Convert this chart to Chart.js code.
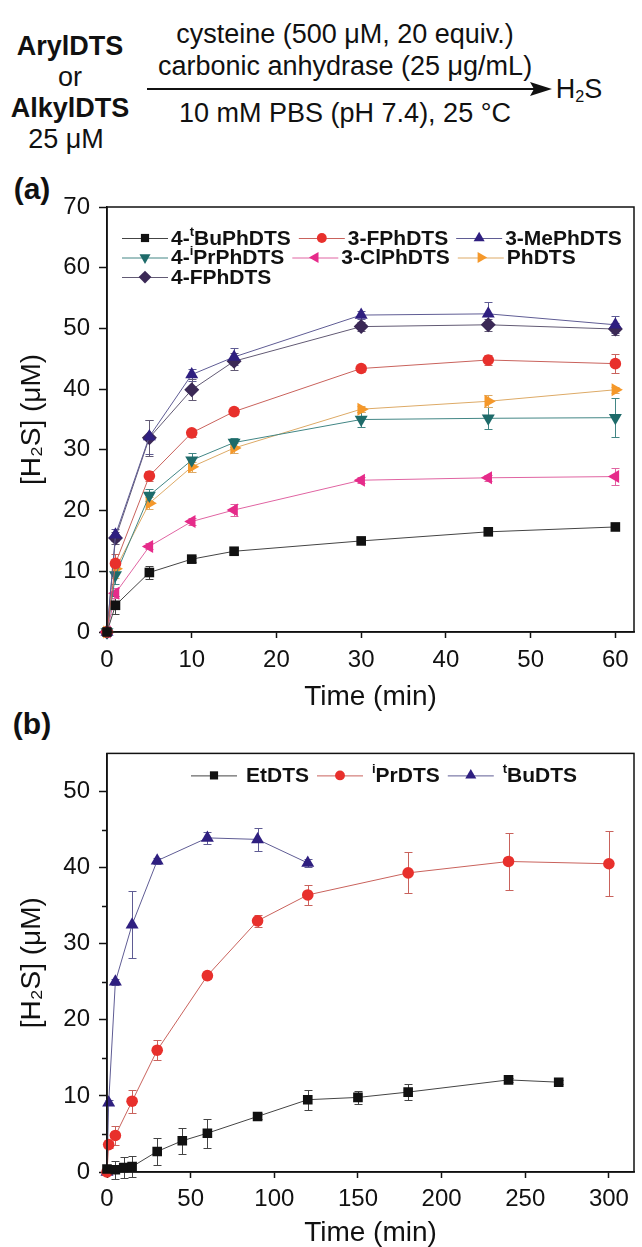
<!DOCTYPE html>
<html>
<head>
<meta charset="utf-8">
<script src="https://cdn.jsdelivr.net/npm/chart.js@4.4.1/dist/chart.umd.min.js"></script>
<style>
  html, body { margin:0; padding:0; background:#fff; overflow:hidden; }
  body { width:642px; height:1247px; position:relative; font-family:'Liberation Sans', Arial, sans-serif; color:#111; }
  .t { position:absolute; transform:translate(-50%,-50%); white-space:nowrap; line-height:1; }
  .b { font-weight:bold; }
  .box { position:absolute; left:0; width:642px; }
  sub { font-size:60%; vertical-align:-0.25em; line-height:0; }
</style>
</head>
<body>
<!-- reaction scheme -->
<div class="t b" style="left:70px;top:46px;font-size:27px">ArylDTS</div>
<div class="t" style="left:70px;top:77px;font-size:27px">or</div>
<div class="t b" style="left:70px;top:108px;font-size:27px">AlkylDTS</div>
<div class="t" style="left:66px;top:139px;font-size:27px">25 μM</div>
<div class="t" style="left:345px;top:34px;font-size:27px">cysteine (500 μM, 20 equiv.)</div>
<div class="t" style="left:345px;top:66px;font-size:27px">carbonic anhydrase (25 μg/mL)</div>
<div class="t" style="left:345px;top:113px;font-size:27px">10 mM PBS (pH 7.4), 25 °C</div>
<svg style="position:absolute;left:0;top:0" width="642" height="150">
  <line x1="147" y1="89" x2="535" y2="89" stroke="#111" stroke-width="2"/>
  <polygon points="552,89 530,82 534,89 530,96" fill="#111"/>
</svg>
<div class="t" style="left:579px;top:89px;font-size:27px">H<sub>2</sub>S</div>

<div class="t b" style="left:32px;top:189px;font-size:30px">(a)</div>
<div class="t b" style="left:32px;top:724px;font-size:30px">(b)</div>

<div class="box" style="top:180px;height:545px"><canvas id="chartA"></canvas></div>
<div class="box" style="top:730px;height:517px"><canvas id="chartB"></canvas></div>

<script>
// ---- data (a): aryl DTS, 0-60 min ----
const timeA = [0, 1, 5, 10, 15, 30, 45, 60];
const tBuPh = [0, 4.4, 9.8, 12.0, 13.3, 15.0, 16.5, 17.3];
const tBuPhErr = [0, 1.5, 1.0, 0.5, 0.5, 0.5, 0.5, 0.4];
const fPh3 = [0, 11.3, 25.7, 32.8, 36.3, 43.4, 44.8, 44.2];
const fPh3Err = [0, 1.5, 0.8, 0.6, 0.6, 0.5, 0.8, 1.6];
const mePh3 = [0, 16.0, 32.2, 42.4, 45.3, 52.2, 52.4, 50.6];
const mePh3Err = [0, 1.0, 2.8, 1.0, 1.4, 0.6, 1.9, 1.4];
const iPrPh = [0, 9.4, 22.5, 28.3, 31.2, 35.0, 35.2, 35.3];
const iPrPhErr = [0, 1.5, 1.0, 1.2, 0.8, 1.2, 1.8, 3.2];
const clPh3 = [0, 6.4, 14.1, 18.2, 20.1, 25.0, 25.4, 25.6];
const clPh3Err = [0, 0.8, 0.5, 0.5, 1.0, 0.5, 0.5, 1.4];
const ph = [0, 10.4, 21.2, 27.2, 30.3, 36.7, 38.0, 39.9];
const phErr = [0, 1.5, 1.0, 0.8, 0.8, 0.5, 1.0, 0.5];
const fPh4 = [0, 15.5, 32.0, 39.9, 44.6, 50.3, 50.6, 49.9];
const fPh4Err = [0, 1.0, 3.0, 1.7, 1.4, 0.8, 1.0, 1.0];

// ---- data (b): alkyl DTS, 0-300 min ----
const timeEt = [0, 5, 10, 15, 30, 45, 60, 90, 120, 150, 180, 240, 270];
const et = [0.4, 0.3, 0.6, 0.7, 2.7, 4.1, 5.1, 7.3, 9.5, 9.8, 10.5, 12.1, 11.8];
const etErr = [0.5, 1.2, 1.4, 1.4, 1.8, 1.7, 1.9, 0.4, 1.3, 0.8, 1.1, 0.3, 0.3];
const timeIPr = [0, 1, 5, 15, 30, 60, 90, 120, 180, 240, 300];
const iPr = [0, 3.6, 4.8, 9.3, 16.0, 25.8, 33.0, 36.4, 39.3, 40.8, 40.5];
const iPrErr = [0, 0.5, 1.3, 1.5, 1.3, 0.4, 0.8, 1.3, 2.7, 3.8, 4.3];
const timeTBu = [0, 1, 5, 15, 30, 60, 90, 120];
const tBu = [0, 9.1, 25.0, 32.5, 40.9, 43.9, 43.7, 40.6];
const tBuErr = [0, 0.3, 0.4, 4.4, 0.4, 0.8, 1.5, 0.5];

Chart.defaults.font.family = "'Liberation Sans', Arial, sans-serif";
Chart.defaults.color = '#111';

function series(label, xs, ys, errs, st) {
  return {
    label: label,
    data: xs.map((x, i) => ({x: x, y: ys[i]})),
    errors: errs,
    showLine: true,
    borderColor: st.line,
    borderWidth: 1,
    pointStyle: st.shape,
    pointRadius: st.r,
    pointRotation: st.rot || 0,
    pointBackgroundColor: st.fill,
    pointBorderColor: st.fill,
    pointBorderWidth: 0,
    pointHoverRadius: st.r,
    tension: 0,
    clip: 12
  };
}

const BLACK = {fill:'#111111', line:'#444444', shape:'rect', r:6.8};
const RED = {fill:'#e8302c', line:'#c9625c', shape:'circle', r:5.8};
const NAVY = {fill:'#2f1f80', line:'#5f5c94', shape:'triangle', r:7.5};
const TEAL = {fill:'#1e6b6a', line:'#428685', shape:'triangle', r:7.5, rot:180};
const PINK = {fill:'#e62b8a', line:'#e064a2', shape:'triangle', r:7.5, rot:270};
const ORANGE = {fill:'#f5982a', line:'#ddaa66', shape:'triangle', r:7.5, rot:90};
const PURPLE = {fill:'#3b2956', line:'#625a74', shape:'rectRot', r:7.5};

// error bars from each dataset's errors array
const errorBars = {
  id: 'errorBars',
  beforeDatasetsDraw(chart) {
    const {ctx, scales: {x, y}} = chart;
    chart.data.datasets.forEach(ds => {
      if (!ds.errors) return;
      ctx.save();
      ctx.strokeStyle = ds.borderColor;
      ctx.lineWidth = 1;
      ds.data.forEach((p, j) => {
        const e = ds.errors[j];
        if (!e) return;
        const px = Math.round(x.getPixelForValue(p.x)) + 0.5;
        const top = Math.round(y.getPixelForValue(p.y + e)) + 0.5;
        const bot = Math.round(y.getPixelForValue(p.y - e)) + 0.5;
        ctx.beginPath();
        ctx.moveTo(px, top); ctx.lineTo(px, bot);
        ctx.moveTo(px - 4, top); ctx.lineTo(px + 4, top);
        ctx.moveTo(px - 4, bot); ctx.lineTo(px + 4, bot);
        ctx.stroke();
      });
      ctx.restore();
    });
  }
};

// box frame (top/right) + optional short minor ticks on y
const frame = {
  id: 'frame',
  afterDraw(chart, args, opts) {
    const {ctx, chartArea: a} = chart;
    ctx.save();
    ctx.strokeStyle = '#111';
    ctx.lineWidth = 1.5;
    ctx.strokeRect(a.left, a.top, a.right - a.left, a.bottom - a.top);
    if (opts.minorY) {
      const y = chart.scales.y;
      ctx.beginPath();
      for (let v = opts.minorY; v < y.max; v += opts.minorY * 2) {
        const py = Math.round(y.getPixelForValue(v)) + 0.5;
        ctx.moveTo(a.left - 5, py); ctx.lineTo(a.left, py);
      }
      ctx.stroke();
    }
    ctx.restore();
  }
};

// legend drawn inside the plot: line with marker in the middle, bold text
const SUP = {'ᵗ': 't', 'ⁱ': 'i'};
function drawLabel(ctx, text, x, y, size) {
  let cx = x;
  for (const ch of text) {
    if (SUP[ch]) {
      ctx.font = 'bold ' + Math.round(size * 0.62) + "px 'Liberation Sans', Arial, sans-serif";
      ctx.fillText(SUP[ch], cx, y - size * 0.33);
      cx += ctx.measureText(SUP[ch]).width;
    } else {
      ctx.font = 'bold ' + size + "px 'Liberation Sans', Arial, sans-serif";
      ctx.fillText(ch, cx, y);
      cx += ctx.measureText(ch).width;
    }
  }
  return cx - x;
}
const insideLegend = {
  id: 'insideLegend',
  afterDraw(chart, args, o) {
    const {ctx, chartArea: a} = chart;
    ctx.save();
    ctx.textBaseline = 'middle';
    const dss = chart.data.datasets;
    let cx = 0;
    dss.forEach((ds, i) => {
      const row = Math.floor(i / o.perRow);
      if (i % o.perRow === 0) cx = a.left + o.left;
      const y = a.top + o.top + row * o.rowHeight;
      ctx.strokeStyle = ds.borderColor;
      ctx.lineWidth = 1;
      ctx.beginPath();
      ctx.moveTo(cx, y + 0.5); ctx.lineTo(cx + o.lineLen, y + 0.5);
      ctx.stroke();
      ctx.fillStyle = ds.pointBackgroundColor;
      Chart.helpers.drawPoint(ctx, {pointStyle: ds.pointStyle, radius: ds.pointRadius * 0.85,
        rotation: ds.pointRotation, borderWidth: 0}, cx + o.lineLen / 2, y);
      ctx.fillStyle = '#111';
      cx += o.lineLen + o.textGap;
      cx += drawLabel(ctx, ds.label, cx, y + 1, o.size) + o.itemGap;
    });
    ctx.restore();
  }
};

function options(xMax, xStep, yMax, xTickPad, titlePad, lg, minorY) {
  return {
    responsive: true,
    maintainAspectRatio: false,
    animation: false,
    events: [],
    layout: {padding: {left: 0, right: 8, top: lg.padTop, bottom: 0}},
    plugins: {
      legend: {display: false},
      tooltip: {enabled: false},
      insideLegend: lg,
      frame: {minorY: minorY}
    },
    scales: {
      x: {
        type: 'linear', min: 0, max: xMax,
        ticks: {stepSize: xStep, includeBounds: false, font: {size: 24}, padding: xTickPad, color: '#111'},
        grid: {display: true, drawOnChartArea: false, tickLength: 6, tickWidth: 1.5, tickColor: '#111'},
        border: {display: true, color: '#111', width: 1.5},
        title: {display: true, text: 'Time (min)', font: {size: 28, lineHeight: 1}, color: '#111',
                padding: {top: 0, bottom: titlePad}},
        afterFit: s => { s.height = lg.xAxisH; }
      },
      y: {
        type: 'linear', min: 0, max: yMax,
        ticks: {stepSize: 10, includeBounds: false, font: {size: 24}, padding: 9, color: '#111'},
        grid: {display: true, drawOnChartArea: false, tickLength: 8, tickWidth: 1.5, tickColor: '#111'},
        border: {display: true, color: '#111', width: 1.5},
        title: {display: true, text: '[H₂S] (μM)', font: {size: 28, lineHeight: 1}, color: '#111',
                padding: {top: 18, bottom: 0}},
        afterFit: s => { s.width = 107; }
      }
    }
  };
}

new Chart(document.getElementById('chartA'), {
  type: 'scatter',
  data: {
    datasets: [
      series('4-ᵗBuPhDTS', timeA, tBuPh, tBuPhErr, BLACK),
      series('3-FPhDTS', timeA, fPh3, fPh3Err, RED),
      series('3-MePhDTS', timeA, mePh3, mePh3Err, NAVY),
      series('4-ⁱPrPhDTS', timeA, iPrPh, iPrPhErr, TEAL),
      series('3-ClPhDTS', timeA, clPh3, clPh3Err, PINK),
      series('PhDTS', timeA, ph, phErr, ORANGE),
      series('4-FPhDTS', timeA, fPh4, fPh4Err, PURPLE)
    ]
  },
  options: options(62.2, 10, 70, 8, 14,
    {padTop: 27, xAxisH: 93, left: 15, top: 31, rowHeight: 19.5, perRow: 3,
     lineLen: 46, textGap: 3, itemGap: 8, size: 21}, 0),
  plugins: [errorBars, frame, insideLegend]
});

new Chart(document.getElementById('chartB'), {
  type: 'scatter',
  data: {
    datasets: [
      series('EtDTS', timeEt, et, etErr, BLACK),
      series('ⁱPrDTS', timeIPr, iPr, iPrErr, RED),
      series('ᵗBuDTS', timeTBu, tBu, tBuErr, NAVY)
    ]
  },
  options: options(315, 50, 55, 7, 0,
    {padTop: 18, xAxisH: 75, left: 84, top: 22, rowHeight: 20, perRow: 3,
     lineLen: 46, textGap: 9, itemGap: 8, size: 21}, 5),
  plugins: [errorBars, frame, insideLegend]
});
</script>
</body>
</html>
